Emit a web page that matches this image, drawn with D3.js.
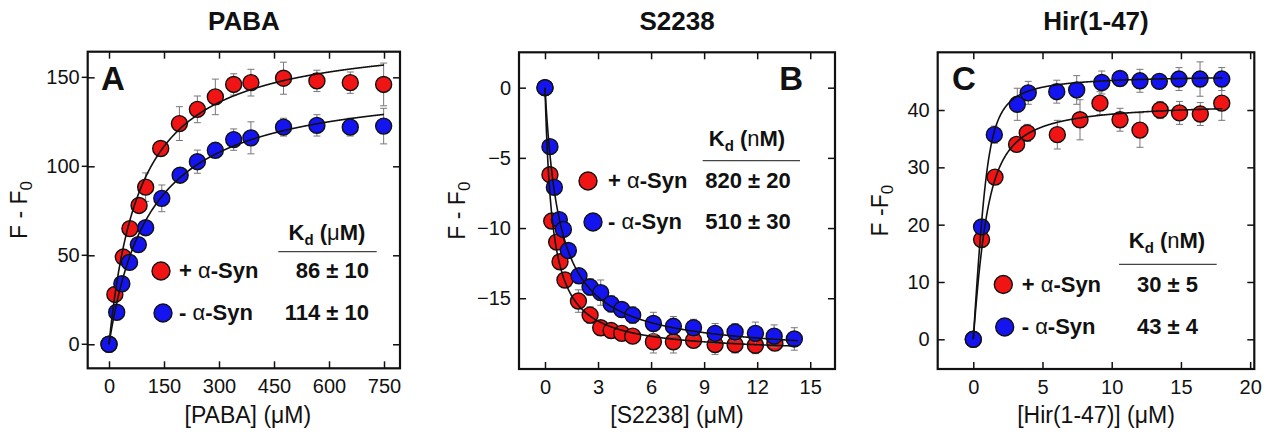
<!DOCTYPE html>
<html><head><meta charset="utf-8">
<script src="https://cdn.jsdelivr.net/npm/d3@7"></script>
<style>
body{margin:0;background:#fff}
svg{display:block}
text{font-family:Arial,"Liberation Sans",sans-serif;fill:#111}
</style>
</head><body>
<svg id="chart" width="1274" height="439"></svg>
<script>
// ---------- Panel A: PABA ----------
const pabaXTicks = [0,150,300,450,600,750];
const pabaYTicks = [0,50,100,150];
const pabaRedX   = [0,16,39,57,82,100,141,192,241,290,340,387,476,567,658,749];
const pabaRedY   = [0,28,49,65,78,88.3,110,124,132,139,146,147,149.5,148,147,146];
const pabaRedErr = [0,2,2,3,3,8,3,9.5,7.5,10,6,7.5,9,6,6,12];
const pabaBlueX  = [0,21,35,56,80,100,144,194,241,290,340,387,476,567,658,749];
const pabaBlueY  = [0,18,34,46,56,65.5,82,95,102.6,109,115,116,122,123,122,122.6];
const pabaBlueErr= [0,1.5,2,2,2,2.5,7.5,4,6.5,4,6,9,5,6,5,10];
const pabaKd     = ["86 ± 10","114 ± 10"];
const pabaFit    = [[174.9,86,0],[148.8,114,0]];   // [Fmax, K, P] for + / - α-Syn

// ---------- Panel B: S2238 ----------
const s2238XTicks = [0,3,6,9,12,15];
const s2238YTicks = [0,-5,-10,-15];
const s2238RedX   = [0,0.28,0.38,0.66,0.85,1.13,1.89,2.55,3.15,3.74,4.34,4.96,6.13,7.26,8.4,9.62,10.75,11.9,13.0];
const s2238RedY   = [0,-6.2,-9.5,-11.0,-12.4,-13.7,-15.2,-16.2,-17.1,-17.3,-17.5,-17.7,-18.1,-18.1,-18.0,-18.3,-18.3,-18.35,-18.2];
const s2238RedErr = [0,0.3,0.3,0.4,0.4,0.5,0.8,0.6,0.5,0.5,0.4,0.4,0.8,0.8,0.5,0.7,0.6,0.6,0.5];
const s2238BlueX  = [0,0.28,0.53,0.81,1.04,1.32,1.92,2.55,3.15,3.74,4.34,4.96,6.13,7.26,8.4,9.62,10.75,11.9,12.96,14.1];
const s2238BlueY  = [0,-4.2,-7.1,-9.4,-10.1,-11.6,-13.4,-14.2,-14.6,-15.4,-15.8,-16.2,-16.8,-17.0,-17.1,-17.5,-17.4,-17.5,-17.7,-17.9];
const s2238BlueErr= [0,0.3,0.3,0.4,0.5,0.4,0.5,0.6,0.9,0.6,0.5,0.6,0.8,0.7,0.6,0.7,0.6,0.8,0.8,0.8];
const s2238Kd     = ["820 ± 20","510 ± 30"];
const s2238Fit    = [[-18.95,0.42,0],[-19.08,0.84,0]];

// ---------- Panel C: Hir(1-47) ----------
const hirXTicks = [0,5,10,15,20];
const hirYTicks = [0,10,20,30,40];
const hirRedX   = [0,0.6,1.57,3.13,3.9,6.07,7.71,9.15,10.6,12.04,13.5,14.9,16.4,17.95];
const hirRedY   = [0,17.4,28.3,34.0,36.0,35.7,38.3,41.2,38.3,36.5,40.0,39.5,39.3,41.2];
const hirRedErr = [0,0.8,0.8,1.0,1.5,2.5,3.5,2.0,2.0,3.0,1.5,2.0,2.0,3.0];
const hirBlueX  = [0,0.6,1.52,3.18,3.97,6.03,7.47,9.28,10.6,12.04,13.44,14.86,16.38,17.95];
const hirBlueY  = [0,19.6,35.7,41.0,43.0,43.2,43.5,44.8,45.5,45.1,45.0,45.4,45.4,45.4];
const hirBlueErr= [0,0.8,1.5,2.8,2.0,2.0,2.5,2.0,1.0,2.0,1.0,2.0,3.0,2.0];
const hirKd     = ["30 ± 5","43 ± 4"];
const hirFit    = [[41.4,0.5,0.8],[46.15,0.2,1.0]];

const seriesNames = ["+ ", "- "];
const seriesColors = ["#f01414", "#1414f0"];

const svg = d3.select("#chart");
svg.append("rect").attr("width",1274).attr("height",439).attr("fill","#fff");

// binding isotherm (hyperbolic when P = 0, quadratic tight-binding otherwise)
function binding(x, p){
  const [F, K, P] = p;
  if (P === 0) return F * x / (K + x);
  const s = P + x + K;
  return F * (s - Math.sqrt(s*s - 4*P*x)) / (2*P);
}

function panel(c){
  const g = svg.append("g");
  const x = d3.scaleLinear().domain(c.xDomain).range([c.x0, c.x1]);
  const y = d3.scaleLinear().domain(c.yDomain).range([c.y1, c.y0]);
  const tickLen = 7;

  const styleAxis = sel => {
    sel.attr("font-family", null).attr("font-size", null);
    sel.select(".domain").remove();
    sel.selectAll(".tick line").attr("stroke","#111").attr("stroke-width",1.5);
    sel.selectAll(".tick text").attr("font-size", 20).attr("fill","#222");
  };
  g.append("g").attr("transform",`translate(0,${c.y1})`)
    .call(d3.axisBottom(x).tickValues(c.xTicks).tickSize(-tickLen).tickPadding(11).tickFormat(d3.format("d")))
    .call(styleAxis);
  g.append("g").attr("transform",`translate(0,${c.y0})`)
    .call(d3.axisTop(x).tickValues(c.xTicks).tickSize(-tickLen).tickFormat(""))
    .call(styleAxis);
  g.append("g").attr("transform",`translate(${c.x0},0)`)
    .call(d3.axisLeft(y).tickValues(c.yTicks).tickSize(-tickLen).tickPadding(8).tickFormat(d3.format("d")))
    .call(styleAxis);
  g.append("g").attr("transform",`translate(${c.x1},0)`)
    .call(d3.axisRight(y).tickValues(c.yTicks).tickSize(-tickLen).tickFormat(""))
    .call(styleAxis);
  if (c.crossLeft){
    g.selectAll(".outtick").data(c.yTicks).join("line")
      .attr("x1", c.x0 - 6).attr("x2", c.x0)
      .attr("y1", d => y(d)).attr("y2", d => y(d))
      .attr("stroke","#111").attr("stroke-width",1.5);
  }

  g.append("rect").attr("x",c.x0).attr("y",c.y0)
    .attr("width",c.x1-c.x0).attr("height",c.y1-c.y0)
    .attr("fill","none").attr("stroke","#111").attr("stroke-width",2.2);

  c.series.forEach((s, i) => {
    const pts = s.x.map((v, k) => ({x: v, y: s.y[k], e: s.err[k]}));
    const eb = g.append("g").attr("stroke","#777").attr("stroke-width",1);
    pts.filter(p => p.e > 0).forEach(p => {
      const xp = x(p.x), yt = y(p.y + p.e), yb = y(p.y - p.e);
      eb.append("line").attr("x1",xp).attr("x2",xp).attr("y1",yt).attr("y2",yb);
      eb.append("line").attr("x1",xp-3.5).attr("x2",xp+3.5).attr("y1",yt).attr("y2",yt);
      eb.append("line").attr("x1",xp-3.5).attr("x2",xp+3.5).attr("y1",yb).attr("y2",yb);
    });
    g.append("g").selectAll("circle").data(pts).join("circle")
      .attr("cx", d => x(d.x)).attr("cy", d => y(d.y)).attr("r", 8)
      .attr("fill", seriesColors[i]).attr("stroke","#111").attr("stroke-width",1.4);
  });
  c.fits.forEach(p => {
    const xs = d3.range(0, 801).map(k => c.fitMax * k / 800);
    g.append("path")
      .attr("d", d3.line().x(d => x(d)).y(d => y(binding(d, p)))(xs))
      .attr("fill","none").attr("stroke","#111").attr("stroke-width",1.6);
  });

  g.append("text").attr("x",(c.x0+c.x1)/2).attr("y",30).attr("text-anchor","middle")
    .attr("font-size",26).attr("font-weight","bold").text(c.title);
  const xl = g.append("text").attr("x",(c.x0+c.x1)/2 + c.xLabelShift).attr("y",423)
    .attr("text-anchor","middle").attr("font-size",23).attr("fill","#222");
  xl.append("tspan").text(c.xLabel);
  xl.append("tspan").text(" (μM)");
  const yl = g.append("text")
    .attr("transform",`translate(${c.x0 - c.yLabelOff},${(c.y0+c.y1)/2}) rotate(-90)`)
    .attr("text-anchor","middle").attr("font-size",23).attr("fill","#222");
  yl.append("tspan").text(c.yLabel);
  yl.append("tspan").attr("font-size",17).attr("dy",5).text("0");
  g.append("text").attr("x",c.letterX).attr("y",90).attr("text-anchor",c.letterAnchor)
    .attr("font-size",33).attr("font-weight","bold").text(c.letter);

  const L = c.legend;
  const hd = g.append("text").attr("x",L.headX).attr("y",L.headY).attr("text-anchor","middle")
    .attr("font-size",22).attr("font-weight","bold");
  hd.append("tspan").text("K");
  hd.append("tspan").attr("font-size",15).attr("dy",5).text("d");
  hd.append("tspan").attr("dy",-5).text(" (");
  hd.append("tspan").attr("font-weight","normal").text(L.unit[0]);
  hd.append("tspan").text(L.unit.slice(1) + ")");
  g.append("line").attr("x1",L.lineX0).attr("x2",L.lineX1).attr("y1",L.lineY).attr("y2",L.lineY)
    .attr("stroke","#444").attr("stroke-width",1.2);
  seriesNames.forEach((nm, i) => {
    const by = L.rowY[i];
    g.append("circle").attr("cx",L.circX[i]).attr("cy",by-7).attr("r",9)
      .attr("fill",seriesColors[i]).attr("stroke","#111").attr("stroke-width",1.4);
    const t = g.append("text").attr("x",L.textX).attr("y",by).attr("font-size",22).attr("font-weight","bold");
    t.append("tspan").text(nm);
    t.append("tspan").attr("font-weight","normal").text("α");
    t.append("tspan").text("-Syn");
    g.append("text").attr("x",L.valX).attr("y",by).attr("text-anchor",L.valAnchor)
      .attr("font-size",22).attr("font-weight","bold").text(c.kd[i]);
  });
}

panel({
  x0:87.7, x1:400, y0:51.7, y1:368.3,
  xDomain:[-58.1, 793.6], yDomain:[-13.5, 164.4],
  xTicks:pabaXTicks, yTicks:pabaYTicks, crossLeft:true,
  title:"PABA", xLabel:"[PABA]", xLabelShift:4, yLabel:"F - F", yLabelOff:61,
  letter:"A", letterX:101, letterAnchor:"start",
  series:[{x:pabaRedX,y:pabaRedY,err:pabaRedErr},{x:pabaBlueX,y:pabaBlueY,err:pabaBlueErr}],
  fits:pabaFit, fitMax:750, kd:pabaKd,
  legend:{headX:327, headY:240, unit:"μM", lineX0:278.3, lineX1:376.7, lineY:251.7,
          rowY:[278,320], circX:[161,163], textX:179, valX:369, valAnchor:"end"}
});
panel({
  x0:519, x1:835, y0:52.3, y1:369,
  xDomain:[-1.47, 16.4], yDomain:[-20.04, 2.52],
  xTicks:s2238XTicks, yTicks:s2238YTicks, crossLeft:false,
  title:"S2238", xLabel:"[S2238]", xLabelShift:0, yLabel:"F - F", yLabelOff:54,
  letter:"B", letterX:803, letterAnchor:"end",
  series:[{x:s2238RedX,y:s2238RedY,err:s2238RedErr},{x:s2238BlueX,y:s2238BlueY,err:s2238BlueErr}],
  fits:s2238Fit, fitMax:14.3, kd:s2238Kd,
  legend:{headX:747, headY:146, unit:"nM", lineX0:702.7, lineX1:800, lineY:160.7,
          rowY:[188,229], circX:[588,593], textX:608, valX:748, valAnchor:"middle"}
});
panel({
  x0:937.7, x1:1254.3, y0:52.3, y1:369,
  xDomain:[-2.57, 20.3], yDomain:[-5.18, 50.07],
  xTicks:hirXTicks, yTicks:hirYTicks, crossLeft:false,
  title:"Hir(1-47)", xLabel:"[Hir(1-47)]", xLabelShift:0, yLabel:"F -F", yLabelOff:50,
  letter:"C", letterX:952, letterAnchor:"start",
  series:[{x:hirRedX,y:hirRedY,err:hirRedErr},{x:hirBlueX,y:hirBlueY,err:hirBlueErr}],
  fits:hirFit, fitMax:18, kd:hirKd,
  legend:{headX:1167, headY:248.3, unit:"nM", lineX0:1119, lineX1:1216.7, lineY:264.3,
          rowY:[291.5,334], circX:[1003.3,1004.7], textX:1021.7, valX:1167.5, valAnchor:"middle"}
});
</script>
</body></html>
